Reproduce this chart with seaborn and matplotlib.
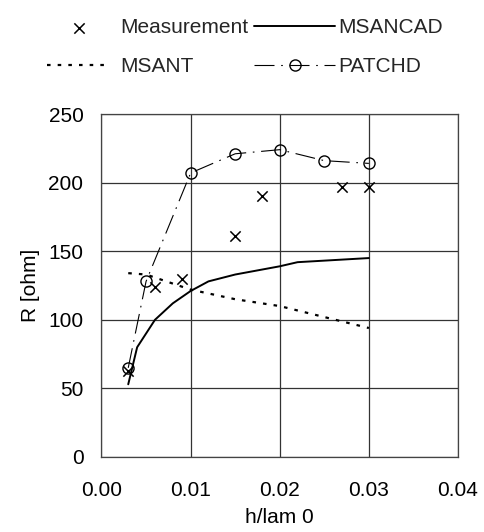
import matplotlib
matplotlib.use("Agg")
import matplotlib.pyplot as plt
import seaborn as sns
import pandas as pd

# Data
meas_x = [0.003, 0.006, 0.009, 0.015, 0.018, 0.027, 0.030]
meas_y = [63, 124, 130, 161, 190, 197, 197]

msancad_x = [0.003, 0.004, 0.006, 0.008, 0.010, 0.012, 0.015, 0.020, 0.022, 0.030]
msancad_y = [53, 80, 100, 112, 121, 128, 133, 139, 142, 145]

msant_x = [0.003, 0.005, 0.010, 0.015, 0.020, 0.025, 0.030]
msant_y = [134, 133, 122, 115, 110, 102, 94]

patchd_x = [0.003, 0.005, 0.010, 0.015, 0.020, 0.025, 0.030]
patchd_y = [65, 128, 207, 221, 224, 216, 214]

x_ticks = [0.00, 0.01, 0.02, 0.03, 0.04]
y_ticks = [0, 50, 100, 150, 200, 250]

sns.set_theme(style="white")
plt.rcParams['font.family'] = ['Liberation Sans', 'DejaVu Sans']

W, H = 485, 532
fig = plt.figure(figsize=(W / 100, H / 100), dpi=100)
ax = fig.add_axes([101.5 / W, (H - 457) / H, (458 - 101.5) / W, (457 - 114) / H])

df_meas = pd.DataFrame({"x": meas_x, "y": meas_y})
df_cad = pd.DataFrame({"x": msancad_x, "y": msancad_y})
df_ant = pd.DataFrame({"x": msant_x, "y": msant_y})
df_pat = pd.DataFrame({"x": patchd_x, "y": patchd_y})

sns.scatterplot(data=df_meas, x="x", y="y", ax=ax, marker="x", s=55,
                color="black", linewidth=1.1, label="Measurement", zorder=5)
sns.lineplot(data=df_ant, x="x", y="y", ax=ax, color="black", lw=1.6,
             linestyle=(0, (1.6, 3.2)), label="MSANT", zorder=4)
sns.lineplot(data=df_cad, x="x", y="y", ax=ax, color="black", lw=1.4,
             label="MSANCAD", zorder=4)
sns.lineplot(data=df_pat, x="x", y="y", ax=ax, color="black", lw=0.8,
             linestyle=(0, (18, 6, 1.5, 6)), marker="o", markersize=8,
             markerfacecolor="none", markeredgecolor="black",
             markeredgewidth=1.0, label="PATCHD", zorder=4)

ax.set_xlim(0, 0.04)
ax.set_ylim(0, 250)
ax.set_xticks(x_ticks)
ax.set_xticklabels([f"{t:.2f}" for t in x_ticks])
ax.set_yticks(y_ticks)
ax.tick_params(axis="x", labelsize=15, colors="black", length=0, pad=17)
ax.tick_params(axis="y", labelsize=15, colors="black", length=0, pad=13)
ax.grid(True, color="#333333", lw=0.9)
for s in ax.spines.values():
    s.set_color("#444444")
    s.set_linewidth(0.9)
ax.set_xlabel("h/lam 0", fontsize=15, color="black", labelpad=6)
ax.set_ylabel("R [ohm]", fontsize=15, color="black", labelpad=6)

handles, labels = ax.get_legend_handles_labels()
hmap = dict(zip(labels, handles))
ax.get_legend().remove()

leg1 = fig.legend([hmap["Measurement"], hmap["MSANT"]], ["Measurement", "MSANT"],
                  loc="upper left", bbox_to_anchor=(47 / W, 1 - 18 / H),
                  frameon=False, fontsize=15, borderpad=0, borderaxespad=0,
                  handlelength=3.05, handletextpad=0.45, labelspacing=0.95)
leg2 = fig.legend([hmap["MSANCAD"], hmap["PATCHD"]], ["MSANCAD", "PATCHD"],
                  loc="upper left", bbox_to_anchor=(254 / W, 1 - 18 / H),
                  frameon=False, fontsize=15, borderpad=0, borderaxespad=0,
                  handlelength=3.9, handletextpad=0.15, labelspacing=0.95)

fig.savefig("out.png", dpi=100)
